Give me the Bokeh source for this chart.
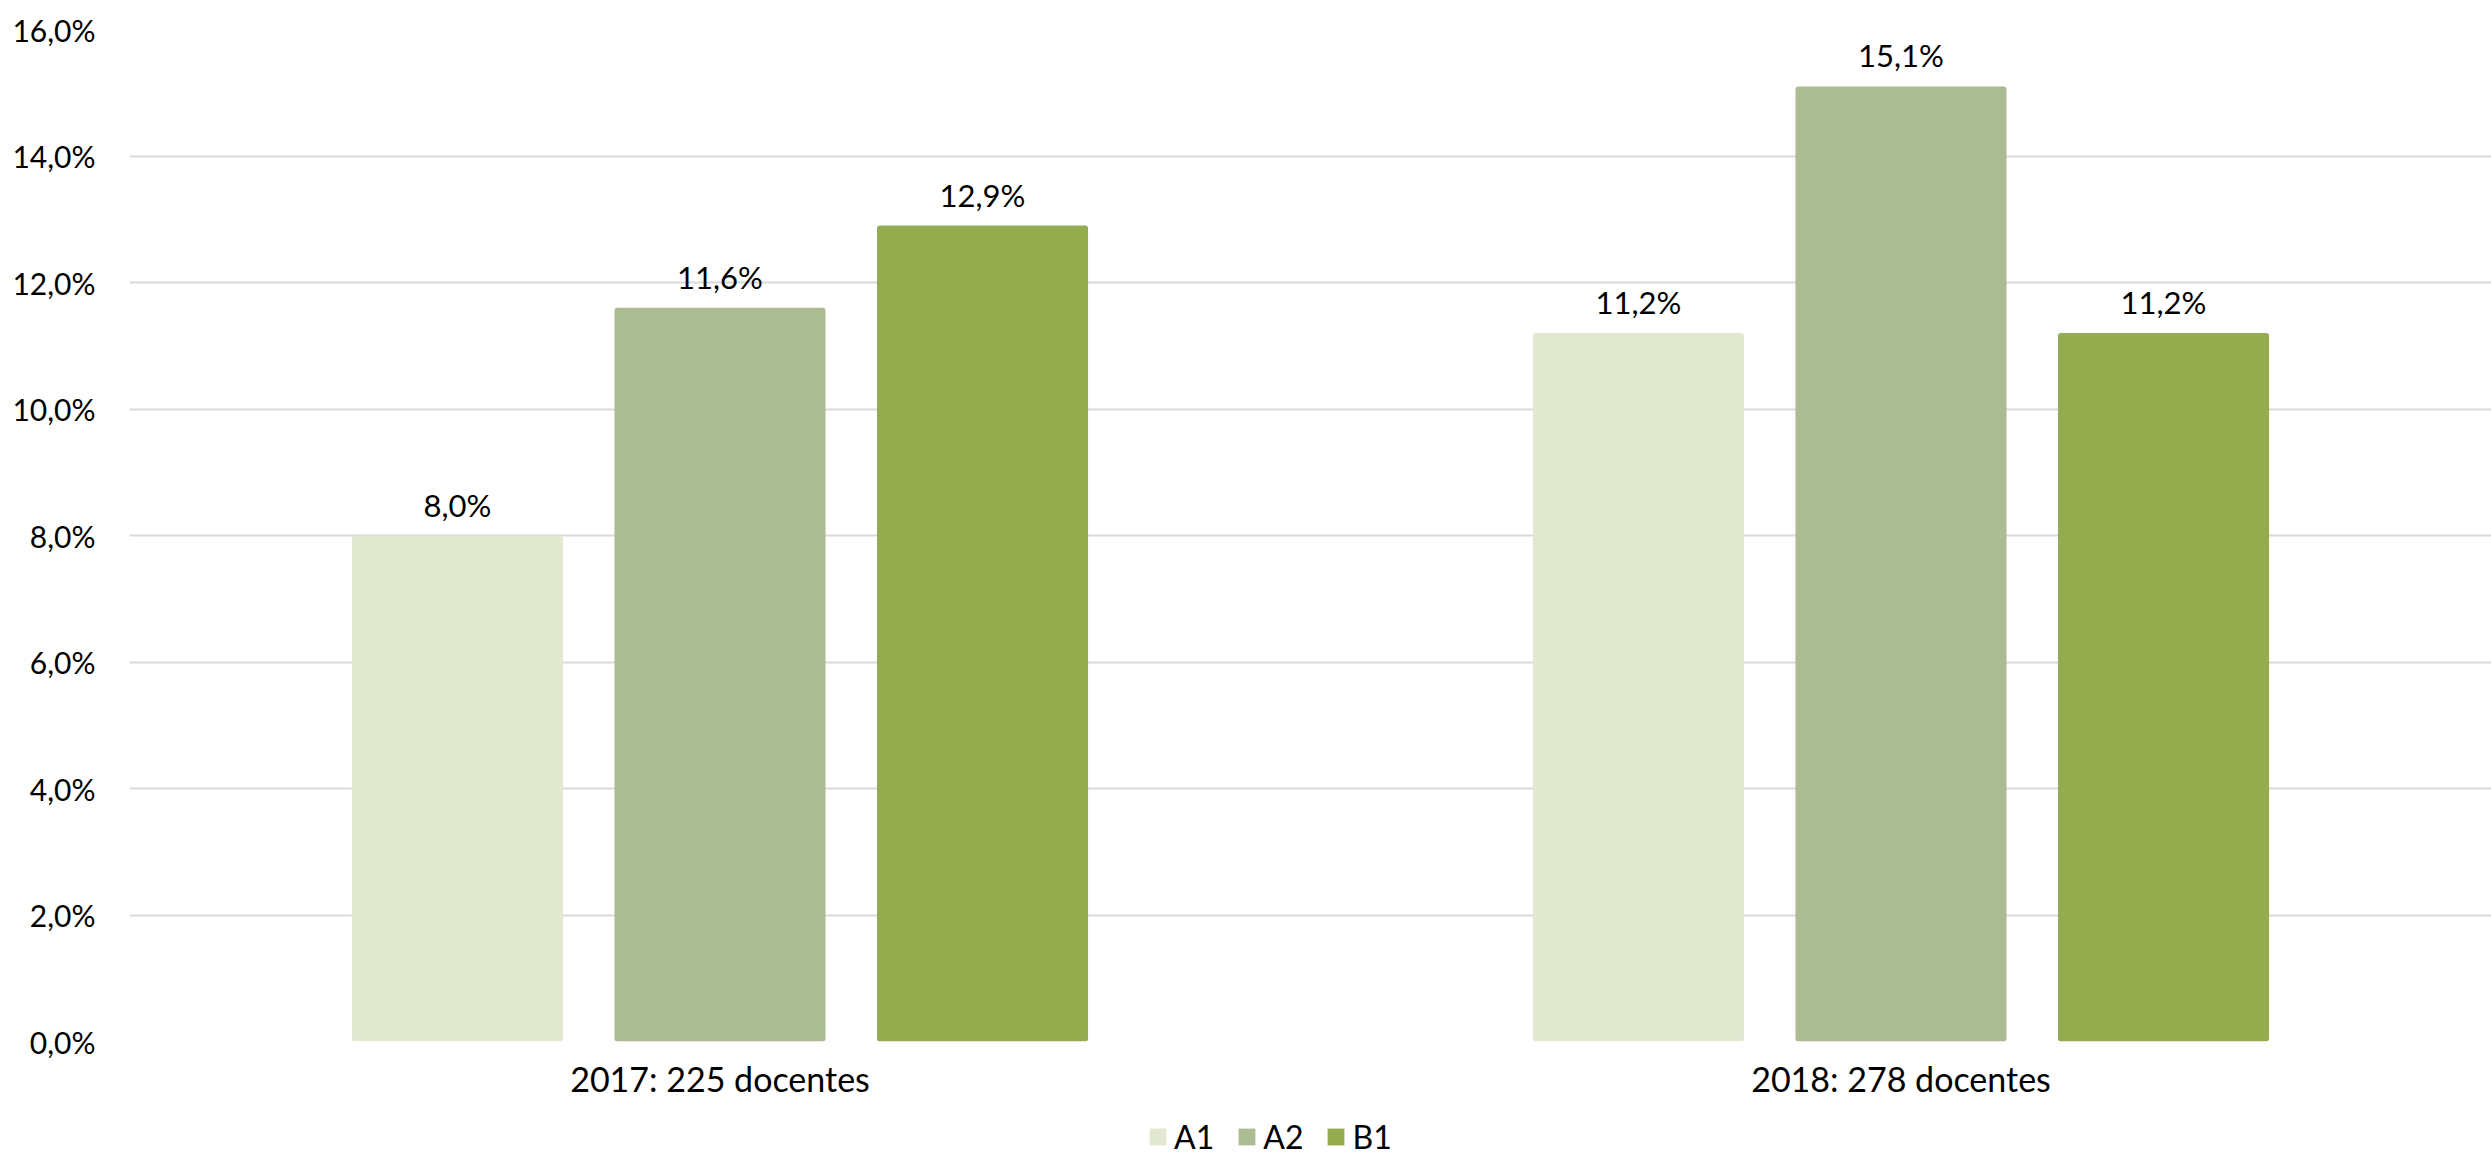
from bokeh.plotting import figure
from bokeh.layouts import column
from bokeh.models import (ColumnDataSource, FactorRange, FixedTicker, LabelSet,
                          Legend, LegendItem)
from bokeh.core.properties import value
from bokeh.transform import dodge
from bokeh.embed import file_html
from bokeh.resources import INLINE

# ---- data ----
categories = ["2017: 225 docentes", "2018: 278 docentes"]
series = ["A1", "A2", "B1"]
a1 = [8.0, 11.2]
a2 = [11.6, 15.1]
b1 = [12.9, 11.2]
y_ticks = [0, 2, 4, 6, 8, 10, 12, 14, 16]
y_tick_labels = ["0,0%", "2,0%", "4,0%", "6,0%", "8,0%", "10,0%", "12,0%", "14,0%", "16,0%"]

colors = ["#E3E9D0", "#ABBB92", "#94AB4E"]
FONT = "Lato"
FS = "30px"

W = 2491
H_MAIN = 1115
H_LEG = 43
LEFT = 129

p = figure(x_range=FactorRange(*categories, range_padding=0), y_range=(0, 16),
           width=W, height=H_MAIN, output_backend="svg", toolbar_location=None,
           min_border_left=LEFT, min_border_right=0, min_border_top=29,
           min_border_bottom=H_MAIN - 29 - 1012)
p.outline_line_color = None
p.background_fill_color = "white"
p.border_fill_color = "white"

src = ColumnDataSource(dict(cat=categories, A1=a1, A2=a2, B1=b1))
offsets = [-0.2223, 0.0, 0.2223]
for s, off, c in zip(series, offsets, colors):
    p.vbar(x=dodge("cat", off, range=p.x_range), top=s, width=0.1787, source=src,
           fill_color=c, line_color=None, border_radius=3)
    vals = src.data[s]
    lsrc = ColumnDataSource(dict(cat=categories, v=vals,
                                 t=[f"{v:.1f}%".replace(".", ",") for v in vals]))
    p.add_layout(LabelSet(x=dodge("cat", off, range=p.x_range), y="v", text="t",
                          source=lsrc, text_align="center", text_baseline="bottom",
                          y_offset=12, text_font=value(FONT), text_font_size=value("31px"),
                          text_color="#000000"))

# axes
p.yaxis.ticker = FixedTicker(ticks=y_ticks)
p.yaxis.major_label_overrides = {t: l for t, l in zip(y_ticks, y_tick_labels)}
p.yaxis.axis_line_color = None
p.yaxis.major_tick_line_color = None
p.yaxis.minor_tick_line_color = None
p.yaxis.major_label_standoff = 28
p.yaxis.major_label_text_font = FONT
p.yaxis.major_label_text_font_size = FS
p.yaxis.major_label_text_color = "#000000"

p.xaxis.axis_line_color = None
p.xaxis.major_tick_line_color = None
p.xaxis.minor_tick_line_color = None
p.xaxis.major_label_standoff = 10
p.xaxis.major_label_text_font = FONT
p.xaxis.major_label_text_font_size = "34px"
p.xaxis.major_label_text_color = "#000000"

p.xgrid.grid_line_color = None
p.ygrid.grid_line_color = "#D9D9D9"
p.ygrid.grid_line_width = 2

# ---- legend in a thin figure below (bars there lie outside its y range) ----
lg = figure(width=W, height=H_LEG, output_backend="svg", toolbar_location=None,
            x_range=FactorRange(*categories, range_padding=0), y_range=(100, 101),
            x_axis_type=None, y_axis_type=None,
            min_border=0, min_border_left=LEFT, min_border_right=0,
            min_border_top=0, min_border_bottom=0)
lg.outline_line_color = None
lg.xgrid.grid_line_color = None
lg.ygrid.grid_line_color = None
leg_renderers = [lg.vbar(x=dodge("cat", off, range=lg.x_range), top=s, width=0.1787,
                         source=src, fill_color=c, line_color=None)
                 for s, off, c in zip(series, offsets, colors)]
legend = Legend(items=[LegendItem(label=s, renderers=[r]) for s, r in zip(series, leg_renderers)],
                orientation="horizontal", location=(1147 - LEFT, 2),
                glyph_width=21, glyph_height=21, label_standoff=6, spacing=22,
                label_text_font=FONT, label_text_font_size="32px",
                label_text_color="#000000", border_line_color=None,
                background_fill_alpha=0, padding=0, margin=0,
                label_height=21)
lg.add_layout(legend, "center")

layout = column(p, lg, spacing=0)
open("out.html", "w").write(file_html(layout, INLINE))
